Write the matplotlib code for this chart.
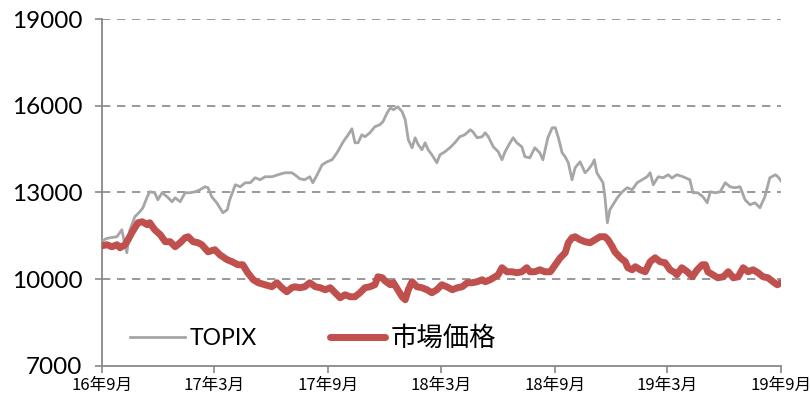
import matplotlib
matplotlib.use("Agg")
import matplotlib.pyplot as plt
import pandas as pd

plt.rcParams['font.family'] = ['Lato', 'Noto Sans CJK JP', 'DejaVu Sans']

# ---- data ----
topix_dates = [
    "2016-09-01","2016-09-07","2016-09-14","2016-09-25","2016-10-03","2016-10-08","2016-10-11","2016-10-16",
    "2016-10-24","2016-11-01","2016-11-06","2016-11-13","2016-11-17","2016-11-25","2016-11-30","2016-12-07",
    "2016-12-15","2016-12-23","2016-12-28","2017-01-05","2017-01-13","2017-01-21","2017-01-29","2017-02-06",
    "2017-02-14","2017-02-19","2017-02-25","2017-03-05","2017-03-10","2017-03-15","2017-03-22","2017-03-26",
    "2017-04-04","2017-04-12","2017-04-20","2017-04-28","2017-05-06","2017-05-14","2017-05-22","2017-06-02",
    "2017-06-12","2017-06-23","2017-07-04","2017-07-09","2017-07-17","2017-07-25","2017-08-02","2017-08-07",
    "2017-08-14","2017-08-22","2017-08-30","2017-09-07","2017-09-15","2017-09-25","2017-10-03","2017-10-09",
    "2017-10-14","2017-10-19","2017-10-25","2017-10-30","2017-11-07","2017-11-15","2017-11-23","2017-11-28",
    "2017-12-05","2017-12-10","2017-12-15","2017-12-22","2017-12-29","2018-01-03","2018-01-08","2018-01-14",
    "2018-01-19","2018-01-24","2018-01-30","2018-02-04","2018-02-09","2018-02-15","2018-02-23","2018-02-28",
    "2018-03-08","2018-03-16","2018-03-24","2018-04-01","2018-04-09","2018-04-18","2018-04-22","2018-04-29",
    "2018-05-07","2018-05-12","2018-05-17","2018-05-25","2018-06-02","2018-06-08","2018-06-13","2018-06-21",
    "2018-06-26","2018-07-02","2018-07-10","2018-07-15","2018-07-23","2018-07-31","2018-08-08","2018-08-13",
    "2018-08-21","2018-08-28","2018-09-02","2018-09-07","2018-09-13","2018-09-18","2018-09-23","2018-09-29",
    "2018-10-04","2018-10-12","2018-10-20","2018-10-25","2018-10-31","2018-11-04","2018-11-08","2018-11-13",
    "2018-11-18","2018-11-21","2018-11-25","2018-11-29","2018-12-04","2018-12-11","2018-12-19","2018-12-27",
    "2019-01-04","2019-01-12","2019-01-20","2019-01-28","2019-02-02","2019-02-07","2019-02-15","2019-02-23",
    "2019-03-03","2019-03-09","2019-03-17","2019-03-27","2019-04-07","2019-04-12","2019-04-20","2019-04-28",
    "2019-05-05","2019-05-10","2019-05-18","2019-05-26","2019-06-03","2019-06-11","2019-06-19","2019-06-27",
    "2019-07-05","2019-07-13","2019-07-21","2019-07-29","2019-08-06","2019-08-14","2019-08-23","2019-08-27",
    "2019-09-01",
]
topix_values = [
    11300,11400,11435,11470,11712,11193,10916,11712,
    12161,12334,12472,12853,13026,12991,12749,12991,
    12853,12680,12818,12680,12991,12991,13026,13095,
    13199,13164,12853,12645,12472,12300,12403,12749,
    13268,13199,13337,13337,13510,13441,13545,13545,
    13614,13683,13683,13614,13475,13441,13545,13337,
    13614,13960,14063,14132,14374,14755,14997,15204,
    14720,14720,14997,14928,15066,15274,15343,15447,
    15758,15930,15862,15965,15793,15516,14824,14547,
    14893,14651,14478,14720,14478,14305,14029,14305,
    14409,14547,14720,14928,14997,15170,15101,14893,
    14928,15066,14928,14582,14409,14132,14409,14720,
    14893,14720,14582,14236,14201,14547,14374,14132,
    14893,15239,15239,14893,14374,14236,14029,13441,
    13856,14063,13683,13787,13960,14132,13683,13510,
    13337,12853,11954,12403,12576,12818,13026,13164,
    13095,13337,13441,13545,13683,13268,13545,13510,
    13614,13500,13614,13545,13441,12991,12991,12853,
    12645,13026,12991,13026,13337,13199,13164,13199,
    12749,12576,12645,12472,12853,13510,13614,13545,
    13400,
]

market_dates = [
    "2016-09-01","2016-09-09","2016-09-17","2016-09-25","2016-09-30","2016-10-08","2016-10-13","2016-10-19",
    "2016-10-24","2016-10-29","2016-11-05","2016-11-13","2016-11-17","2016-11-25","2016-12-04","2016-12-12",
    "2016-12-20","2016-12-28","2017-01-05","2017-01-13","2017-01-18","2017-01-26","2017-02-03","2017-02-09",
    "2017-02-19","2017-03-02","2017-03-10","2017-03-22","2017-03-30","2017-04-08","2017-04-16","2017-04-24",
    "2017-05-03","2017-05-11","2017-05-22","2017-06-02","2017-06-10","2017-06-18","2017-06-26","2017-07-04",
    "2017-07-09","2017-07-17","2017-07-25","2017-08-02","2017-08-11","2017-08-19","2017-08-27","2017-09-04",
    "2017-09-12","2017-09-20","2017-09-28","2017-10-06","2017-10-14","2017-10-22","2017-10-30","2017-11-07",
    "2017-11-15","2017-11-20","2017-11-27","2017-12-01","2017-12-10","2017-12-15","2017-12-22","2017-12-29",
    "2018-01-03","2018-01-08","2018-01-14","2018-01-22","2018-01-30","2018-02-07","2018-02-15","2018-02-23",
    "2018-03-03","2018-03-11","2018-03-20","2018-03-28","2018-04-05","2018-04-13","2018-04-21","2018-04-29",
    "2018-05-07","2018-05-12","2018-05-20","2018-05-28","2018-06-02","2018-06-08","2018-06-16","2018-06-24",
    "2018-07-02","2018-07-10","2018-07-18","2018-07-23","2018-07-31","2018-08-08","2018-08-16","2018-08-25",
    "2018-09-02","2018-09-10","2018-09-18","2018-09-23","2018-09-29","2018-10-04","2018-10-12","2018-10-20",
    "2018-10-28","2018-11-05","2018-11-13","2018-11-21","2018-11-26","2018-12-03","2018-12-07","2018-12-16",
    "2018-12-24","2018-12-28","2019-01-04","2019-01-09","2019-01-17","2019-01-25","2019-02-02","2019-02-10",
    "2019-02-18","2019-02-26","2019-03-06","2019-03-14","2019-03-17","2019-03-25","2019-04-03","2019-04-11",
    "2019-04-19","2019-04-27","2019-05-02","2019-05-06","2019-05-14","2019-05-22","2019-05-31","2019-06-08",
    "2019-06-16","2019-06-24","2019-07-02","2019-07-10","2019-07-18","2019-07-26","2019-08-03","2019-08-11",
    "2019-08-19","2019-08-26","2019-09-01",
]
market_values = [
    11160,11193,11124,11193,11089,11193,11366,11608,
    11781,11954,11988,11885,11954,11712,11539,11297,
    11297,11124,11262,11435,11470,11297,11262,11193,
    10951,11020,10847,10674,10605,10501,10501,10225,
    9983,9879,9810,9741,9879,9706,9568,9706,
    9741,9706,9741,9879,9741,9706,9637,9706,
    9533,9360,9464,9395,9395,9533,9706,9741,
    9810,10086,10052,9950,9810,9879,9637,9395,
    9291,9637,9914,9741,9706,9637,9533,9637,
    9810,9741,9637,9706,9741,9879,9879,9914,
    9983,9914,9983,10086,10156,10398,10259,10259,
    10225,10259,10398,10259,10259,10328,10259,10259,
    10501,10743,10916,11262,11435,11470,11366,11297,
    11262,11366,11470,11470,11366,11124,10951,10743,
    10605,10398,10328,10432,10328,10259,10605,10743,
    10605,10571,10328,10225,10156,10398,10259,10086,
    10328,10501,10501,10259,10156,10052,10086,10259,
    10052,10086,10398,10259,10328,10225,10086,10052,
    9914,9810,9879,
]

series_names = ["TOPIX", "市場価格"]
y_ticks = [7000, 10000, 13000, 16000, 19000]
x_tick_dates = ["2016-09-01", "2017-03-01", "2017-09-01", "2018-03-01", "2018-09-01", "2019-03-01", "2019-09-01"]
x_tick_labels = ["16年9月", "17年3月", "17年9月", "18年3月", "18年9月", "19年3月", "19年9月"]

# ---- figure ----
fig = plt.figure(figsize=(8.10, 4.01), dpi=100)
ax = fig.add_axes([102/810, 1-366/401, (781-102)/810, (366-19)/401])

td = pd.to_datetime(topix_dates)
md = pd.to_datetime(market_dates)

ax.plot(td, topix_values, color="#A6A6A6", lw=2.0, label=series_names[0],
        solid_joinstyle="round", zorder=3)
ax.plot(md, market_values, color="#C0504D", lw=5.0, label=series_names[1],
        solid_joinstyle="round", solid_capstyle="round", zorder=4)

ax.set_ylim(7000, 19000)
ax.set_yticks(y_ticks)
ax.set_xlim(pd.Timestamp(x_tick_dates[0]), pd.Timestamp(x_tick_dates[-1]))
ax.set_xticks(pd.to_datetime(x_tick_dates))
ax.set_xticklabels(x_tick_labels, fontsize=12, family=['Noto Sans CJK JP', 'DejaVu Sans'])
ax.tick_params(axis='y', labelsize=17.5, length=5, width=1.2, color="#888888", pad=9, direction='out')
ax.tick_params(axis='x', length=5, width=1.2, color="#888888", pad=3, direction='out')

for s in ["top", "right"]:
    ax.spines[s].set_visible(False)
for s in ["left", "bottom"]:
    ax.spines[s].set_color("#888888")
    ax.spines[s].set_linewidth(1.3)

for v in y_ticks[1:]:
    ax.axhline(v, color="#888888", lw=1.2, ls=(0, (5, 4)), zorder=1)

leg = ax.legend(loc="center left", bbox_to_anchor=(0.041, 0.081), ncol=2, frameon=False,
                fontsize=16.5, handlelength=2.4, handletextpad=0.22, columnspacing=3.2,
                borderpad=0, borderaxespad=0)
leg.get_texts()[1].set_fontsize(19)

fig.savefig("out.png", dpi=100)
